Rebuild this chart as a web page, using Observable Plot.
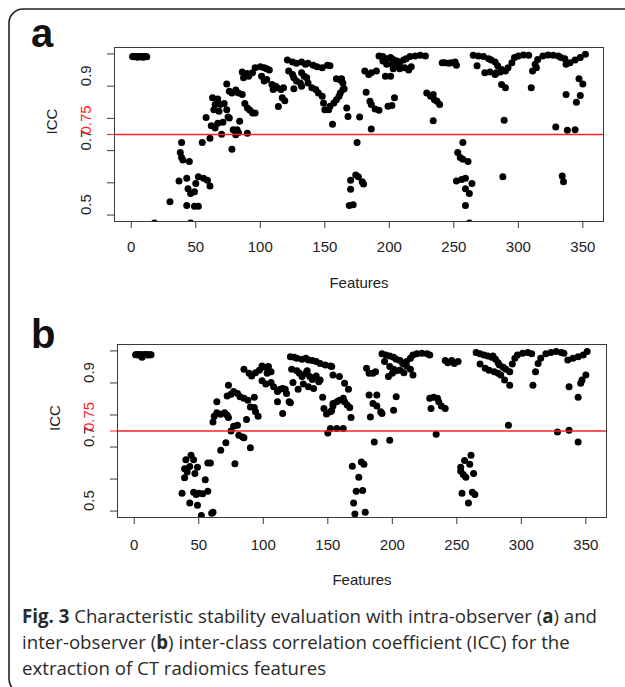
<!DOCTYPE html>
<html><head><meta charset="utf-8">
<script src="https://cdn.jsdelivr.net/npm/d3@7"></script>
<script src="https://cdn.jsdelivr.net/npm/@observablehq/plot@0.6"></script>
<style>
body{margin:0;background:#fff;}
#wrap{position:relative;width:625px;height:687px;overflow:hidden;background:#fff;}
.panel{position:absolute;left:0;}
#overlay{position:absolute;left:0;top:0;}
#caption{position:absolute;left:22px;top:603px;font-family:"Open Sans",sans-serif;font-size:19px;line-height:26px;color:#2a2a2a;white-space:nowrap;transform-origin:0 0;}
#caption div{display:inline-block;}
</style></head><body>
<div id="wrap">
<svg id="overlay" width="625" height="687">
  <rect x="9" y="9" width="700" height="684" rx="14" ry="14" fill="none" stroke="#222" stroke-width="1.6"></rect>
  <text x="31" y="47" font-family="Liberation Sans, Arial, sans-serif" font-weight="bold" font-size="40" fill="#111">a</text>
  <text x="31" y="348" font-family="Liberation Sans, Arial, sans-serif" font-weight="bold" font-size="40" fill="#111">b</text>
</svg>
<div id="panelA" class="panel" style="top:0px"></div>
<div id="panelB" class="panel" style="top:300px"></div>
<div id="caption"><div id="cap1"><b>Fig. 3</b> Characteristic stability evaluation with intra-observer (<b>a</b>) and</div><br><div>inter-observer (<b>b</b>) inter-class correlation coefficient (ICC) for the</div><br><div>extraction of CT radiomics features</div></div>
</div>
<script>
// ---- data ----
const xTicks = [0, 50, 100, 150, 200, 250, 300, 350];
const yTicks = [0.5, 0.6, 0.7, 0.8, 0.9, 1.0];
const yLabels = [0.5, 0.7, 0.9];
const threshold = 0.75;
const xTitle = "Features";
const yTitle = "ICC";

// panel a: intra-observer
const aFeature = [1,2,3,4,5,6,7,8,9,10,11,12,18,30,37,38,39,39,40,43,43,44,45,46,46,49,49,50,52,52,55,56,58,59,61,61,62,63,64,65,65,67,67,68,69,70,71,72,74,74,75,76,76,78,78,79,81,81,82,83,83,84,86,86,87,88,90,90,90,91,92,94,94,96,96,100,101,103,103,105,105,107,109,110,112,113,114,116,117,118,119,121,122,125,125,126,126,128,128,131,132,132,132,134,135,136,137,137,140,141,143,144,145,148,148,149,150,152,153,154,154,156,157,159,159,161,162,162,163,164,164,165,167,168,170,170,169,172,174,175,176,177,179,180,181,182,184,185,186,186,186,189,190,192,192,195,195,197,198,198,199,201,201,202,202,203,203,204,206,206,208,208,211,212,213,215,216,217,220,224,228,229,232,234,234,235,237,239,241,243,246,248,251,252,252,253,255,256,257,257,259,259,259,261,262,262,264,265,268,269,273,274,277,278,279,282,282,283,284,286,287,287,288,289,290,290,292,295,297,300,304,308,310,311,313,314,315,319,323,327,329,331,333,334,335,336,337,337,338,340,344,344,345,347,348,348,350,352];
const aICC = [0.992,0.991,0.992,0.991,0.990,0.992,0.991,0.992,0.990,0.991,0.992,0.991,0.475,0.541,0.606,0.694,0.725,0.679,0.671,0.614,0.530,0.582,0.666,0.567,0.475,0.572,0.527,0.598,0.619,0.527,0.725,0.614,0.803,0.608,0.590,0.738,0.777,0.864,0.827,0.843,0.770,0.785,0.860,0.822,0.843,0.751,0.788,0.846,0.827,0.907,0.804,0.801,0.884,0.879,0.704,0.765,0.888,0.749,0.765,0.756,0.879,0.791,0.874,0.944,0.926,0.846,0.832,0.754,0.939,0.931,0.825,0.942,0.817,0.817,0.957,0.960,0.931,0.957,0.916,0.954,0.921,0.950,0.905,0.890,0.900,0.895,0.837,0.890,0.864,0.895,0.855,0.981,0.947,0.975,0.936,0.926,0.892,0.971,0.916,0.910,0.975,0.942,0.900,0.931,0.968,0.926,0.971,0.910,0.895,0.965,0.890,0.960,0.879,0.957,0.869,0.848,0.827,0.965,0.827,0.963,0.838,0.782,0.848,0.858,0.923,0.869,0.879,0.919,0.923,0.890,0.910,0.892,0.832,0.806,0.608,0.580,0.530,0.532,0.624,0.725,0.619,0.804,0.603,0.596,0.947,0.881,0.936,0.853,0.942,0.843,0.767,0.829,0.947,0.825,0.994,0.992,0.978,0.931,0.985,0.968,0.838,0.989,0.931,0.968,0.840,0.983,0.954,0.864,0.978,0.963,0.973,0.954,0.981,0.957,0.985,0.950,0.992,0.960,0.994,0.996,0.994,0.879,0.869,0.874,0.793,0.858,0.853,0.843,0.973,0.973,0.971,0.973,0.975,0.965,0.606,0.694,0.679,0.610,0.725,0.673,0.614,0.582,0.530,0.666,0.567,0.475,0.598,0.996,0.963,0.994,0.992,0.942,0.985,0.944,0.981,0.975,0.936,0.942,0.963,0.944,0.952,0.905,0.619,0.794,0.947,0.895,0.957,0.973,0.989,0.994,0.997,0.996,0.895,0.947,0.968,0.957,0.983,0.994,0.997,0.996,0.773,0.994,0.989,0.621,0.603,0.985,0.968,0.874,0.763,0.973,0.981,0.765,0.850,0.923,0.989,0.871,0.907,0.999];

// panel b: inter-observer
const bFeature = [1,2,3,4,5,6,7,8,9,10,11,12,13,37,39,39,40,41,43,43,44,46,46,47,48,49,49,50,52,53,55,57,57,59,60,61,61,62,64,64,67,67,70,71,72,72,73,73,75,75,77,77,78,80,80,81,82,84,85,85,85,87,88,89,90,90,91,93,93,94,94,96,97,99,99,101,102,103,104,106,106,108,111,111,113,115,115,117,118,120,121,121,122,123,124,126,126,127,128,130,130,131,133,133,134,135,135,136,138,138,139,141,141,143,144,144,146,147,148,149,150,152,152,152,153,153,154,154,154,157,157,159,159,162,162,163,163,165,166,167,168,169,170,171,172,174,176,177,178,179,180,182,182,183,185,185,186,187,188,188,191,192,192,194,195,197,198,198,198,200,201,201,201,203,203,203,206,206,208,209,211,211,214,214,216,216,219,223,227,229,229,230,232,234,235,236,238,241,241,243,246,248,251,253,253,254,255,256,257,259,260,261,262,263,264,265,268,268,271,272,274,275,277,278,279,280,282,282,283,284,286,287,288,290,291,291,293,295,297,301,305,308,309,311,313,315,319,323,327,328,331,333,336,337,337,340,344,344,344,346,347,348,350,351];
const bICC = [0.988,0.989,0.987,0.988,0.989,0.980,0.988,0.987,0.989,0.988,0.987,0.988,0.988,0.556,0.632,0.604,0.660,0.622,0.639,0.525,0.674,0.660,0.559,0.617,0.552,0.637,0.518,0.556,0.486,0.554,0.598,0.650,0.562,0.650,0.493,0.496,0.778,0.796,0.807,0.841,0.802,0.690,0.807,0.713,0.799,0.859,0.792,0.893,0.865,0.750,0.873,0.765,0.648,0.867,0.768,0.737,0.857,0.731,0.852,0.729,0.943,0.786,0.846,0.930,0.825,0.698,0.922,0.823,0.855,0.810,0.932,0.796,0.940,0.953,0.907,0.949,0.897,0.930,0.951,0.935,0.901,0.888,0.873,0.841,0.880,0.883,0.805,0.880,0.867,0.841,0.838,0.982,0.943,0.901,0.980,0.977,0.938,0.880,0.930,0.974,0.920,0.897,0.977,0.930,0.938,0.972,0.888,0.920,0.970,0.911,0.883,0.967,0.922,0.904,0.961,0.909,0.855,0.820,0.956,0.803,0.744,0.953,0.810,0.758,0.951,0.813,0.828,0.925,0.836,0.841,0.758,0.846,0.920,0.852,0.758,0.899,0.841,0.831,0.880,0.823,0.792,0.640,0.525,0.491,0.562,0.606,0.653,0.564,0.646,0.496,0.946,0.930,0.862,0.794,0.836,0.930,0.716,0.935,0.862,0.828,0.810,0.805,0.991,0.967,0.987,0.920,0.984,0.951,0.721,0.930,0.980,0.943,0.815,0.974,0.938,0.857,0.970,0.940,0.961,0.932,0.967,0.953,0.977,0.943,0.987,0.925,0.991,0.993,0.991,0.987,0.852,0.820,0.855,0.740,0.852,0.841,0.828,0.820,0.970,0.963,0.970,0.961,0.967,0.637,0.625,0.556,0.614,0.658,0.606,0.525,0.646,0.674,0.559,0.617,0.552,0.995,0.991,0.959,0.987,0.946,0.984,0.940,0.980,0.984,0.935,0.974,0.963,0.930,0.956,0.925,0.949,0.909,0.943,0.768,0.935,0.893,0.959,0.977,0.987,0.993,0.995,0.991,0.893,0.935,0.961,0.977,0.991,0.995,0.998,0.747,0.995,0.993,0.972,0.888,0.752,0.977,0.982,0.855,0.716,0.899,0.909,0.987,0.925,0.998];

// ---- drawing ----
const FONT = '"Liberation Sans", Arial, sans-serif';
function panel(features, icc, g) {
  const H = 300;
  const idx = d3.range(features.length);
  return Plot.plot({
    width: 625, height: H,
    marginLeft: g.left, marginRight: 625 - g.right, marginTop: g.top, marginBottom: H - g.bottom,
    x: {domain: [-13, 366]},
    y: {domain: [0.48, 1.02]},
    style: {fontFamily: FONT, fontSize: "15px", color: "#222", background: "transparent", overflow: "visible"},
    marks: [
      Plot.dot(idx, {x: i => features[i], y: i => icc[i], r: 3.5, fill: "black", stroke: "none", clip: true}),
      Plot.ruleY([threshold], {stroke: "#ff2020", strokeWidth: 1.3}),
      Plot.frame({stroke: "#3a3a3a"}),
      Plot.axisX({ticks: xTicks, tickSize: 7, tickPadding: g.xpad, label: null, stroke: "#3a3a3a", fill: "#222"}),
      Plot.axisY({ticks: yTicks, tickSize: 7, tickFormat: () => "", label: null, stroke: "#3a3a3a"}),
      Plot.axisY({ticks: [threshold], tickSize: 7, tickFormat: () => "", label: null, stroke: "#ff2020"}),
      Plot.text(yLabels, {y: d => d, text: d => d.toFixed(1), frameAnchor: "left", dx: -28, rotate: -90, fill: "#222"}),
      Plot.text([threshold], {y: d => d, text: d => String(d), frameAnchor: "left", dx: -28, rotate: -90, fill: "#ff2020"}),
      Plot.text([yTitle], {text: d => d, frameAnchor: "left", dx: -62, rotate: -90, fill: "#222"}),
      Plot.text([xTitle], {text: d => d, frameAnchor: "bottom", dy: g.titleDy, fill: "#222"})
    ]
  });
}
document.getElementById("panelA").appendChild(panel(aFeature, aICC, {left: 114, right: 603, top: 47, bottom: 221, xpad: 13, titleDy: 66}));
document.getElementById("panelB").appendChild(panel(bFeature, bICC, {left: 117, right: 606, top: 44, bottom: 217, xpad: 15, titleDy: 67}));

// fit caption width to the reference line length
const cap1 = document.getElementById("cap1");
const w = cap1.getBoundingClientRect().width;
const target = 575;
document.getElementById("caption").style.transform = `scaleX(${target / w})`;
</script>
</body></html>
